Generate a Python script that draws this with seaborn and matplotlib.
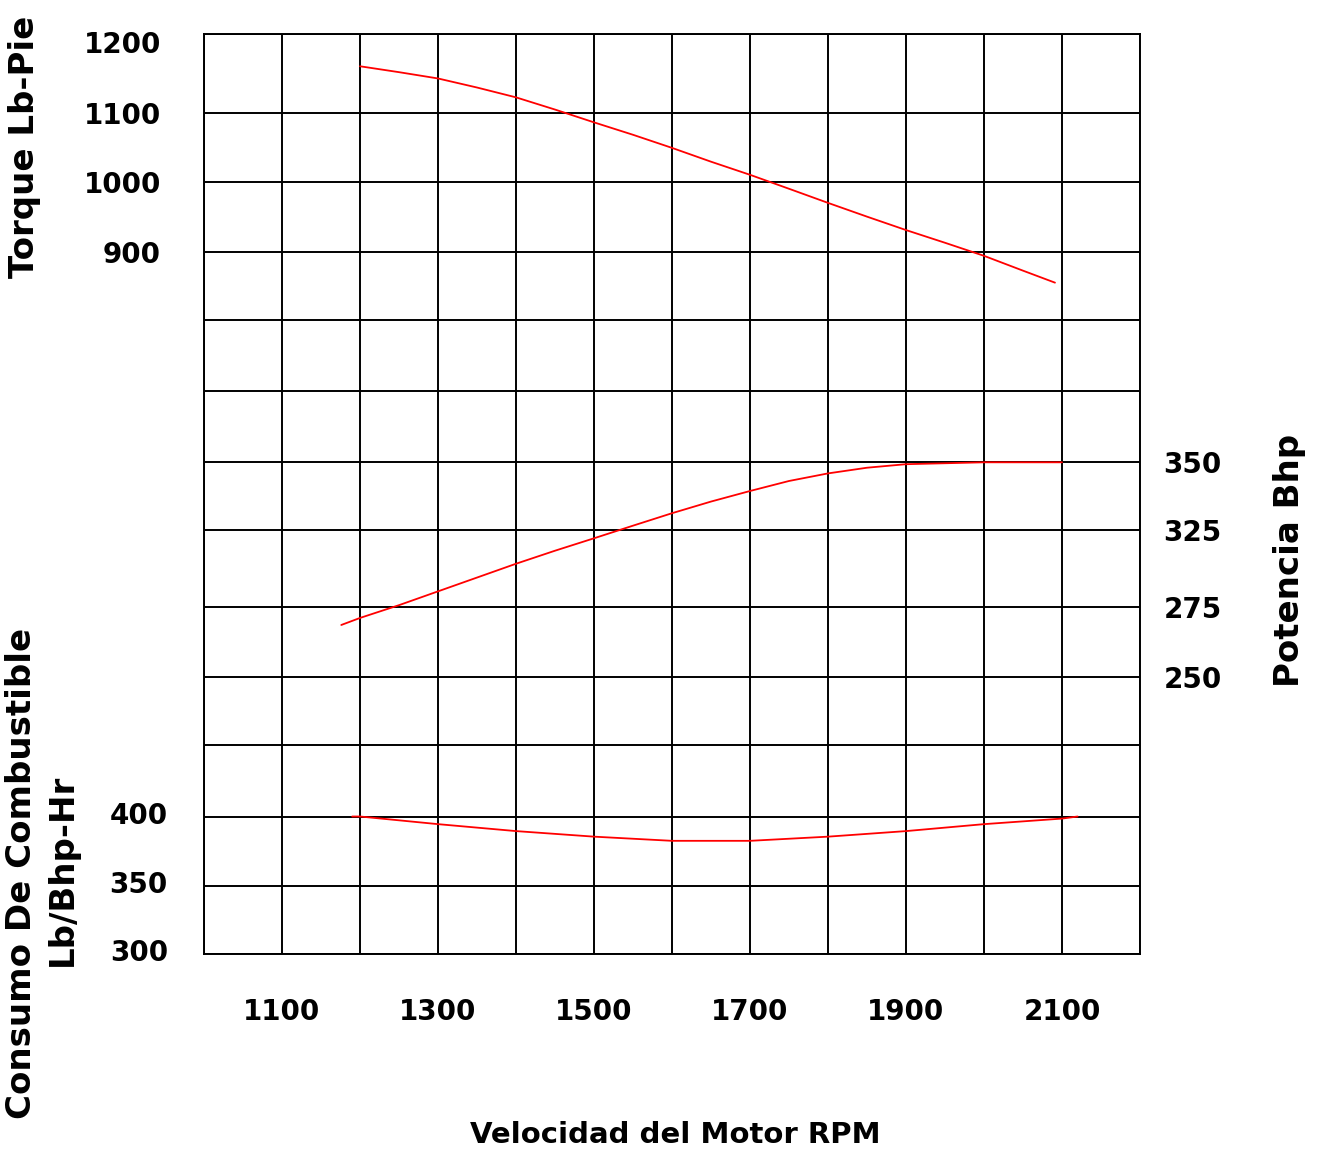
import numpy as np
import matplotlib
matplotlib.use("Agg")
import matplotlib.pyplot as plt
import matplotlib.transforms as mtransforms
import seaborn as sns

# Engine speed (rpm) and the three performance curves
torque_rpm = [1200, 1250, 1300, 1350, 1400, 1450, 1500, 1550, 1600, 1650,
              1700, 1750, 1800, 1850, 1900, 1950, 2000, 2050, 2091]
torque_lbft = [1159, 1151.5, 1143.5, 1132, 1119.5, 1104, 1086, 1068, 1049, 1029,
               1010, 990, 970, 950.5, 931.5, 913.5, 895, 874, 857]

power_rpm = [1176, 1200, 1250, 1300, 1350, 1400, 1450, 1500, 1550, 1600,
             1650, 1700, 1750, 1800, 1850, 1900, 2000, 2100]
power_bhp = [268.5, 271, 276, 285, 294, 303, 311.5, 319.6, 326.6, 331.2,
             335.5, 339.4, 343.1, 345.9, 348, 349.3, 350, 350]

fuel_rpm = [1190, 1200, 1300, 1400, 1500, 1600, 1700, 1800, 1900, 2000, 2100, 2120]
fuel_cons = [400, 400, 394.5, 389.5, 385.5, 382.5, 382.5, 385.5, 389.5, 394.5, 398.5, 400]

# Axis tick labels
rpm_ticks = [1100, 1300, 1500, 1700, 1900, 2100]
torque_ticks = [900, 1000, 1100, 1200]
power_ticks = [250, 275, 325, 350]
fuel_ticks = [300, 350, 400]

sns.set_style("white")
plt.rcParams["font.family"] = ["DejaVu Sans"]
plt.rcParams["font.weight"] = "bold"
plt.rcParams["text.color"] = "black"
plt.rcParams["xtick.color"] = "black"
plt.rcParams["ytick.color"] = "black"
plt.rcParams["axes.labelcolor"] = "black"

W, H = 1320, 1150
fig = plt.figure(figsize=(W / 100, H / 100), dpi=100)
fig.patch.set_facecolor("white")

# Layout of the chart frame and of its horizontal rules (pixels from the top)
left, right, top, bottom = 204, 1140, 34, 954
rule_px = [34, 112.7, 181.7, 252.3, 320, 391, 462.3, 530, 606.7, 677, 745, 816.5, 886, 954]
rule_y = [bottom - p for p in rule_px][::-1]            # height above frame bottom
torque_rule_idx = [3, 2, 1, 0]                          # rules carrying 900..1200
power_rule_idx = [9, 8, 7, 6]                           # rules carrying 250..350
fuel_rule_idx = [13, 12, 11]                            # rules carrying 300..400

ax = fig.add_axes([left / W, 1 - bottom / H, (right - left) / W, (bottom - top) / H])

TICK_FS = 20
TITLE_FS = 24.5

ax.set_xlim(1000, 2200)
ax.set_ylim(0, bottom - top)
grid_x = np.arange(1000, 2201, 100)
ax.set_xticks(grid_x)
ax.set_xticklabels([str(v) if v in rpm_ticks else "" for v in grid_x],
                   fontsize=TICK_FS, fontweight="bold")
ax.set_yticks(rule_y)
ax.set_yticklabels([])
ax.grid(True, color="black", lw=1.4)
ax.set_axisbelow(True)
for sp in ax.spines.values():
    sp.set_color("black")
    sp.set_linewidth(1.4)
ax.tick_params(axis="both", length=0)
ax.tick_params(axis="x", pad=32)

line_kw = dict(color="#ff0000", lw=1.3, legend=False)


def interp_ext(x, xp, fp):
    """Piecewise-linear map through (xp, fp), extended linearly past both ends."""
    x = np.asarray(x, dtype=float)
    y = np.interp(x, xp, fp)
    lo_slope = (fp[1] - fp[0]) / (xp[1] - xp[0])
    hi_slope = (fp[-1] - fp[-2]) / (xp[-1] - xp[-2])
    y = np.where(x < xp[0], fp[0] + (x - xp[0]) * lo_slope, y)
    y = np.where(x > xp[-1], fp[-1] + (x - xp[-1]) * hi_slope, y)
    return y


def value_axis(ticks, rule_idx):
    """Twin axis whose tick values sit on the given horizontal rules."""
    t = ax.twinx()
    for sp in t.spines.values():
        sp.set_visible(False)
    t.grid(False)
    vals = np.array(ticks, dtype=float)
    pos = np.array([bottom - rule_px[i] for i in rule_idx], dtype=float)
    t.set_yscale("function", functions=(lambda v: interp_ext(v, vals, pos),
                                        lambda p: interp_ext(p, pos, vals)))
    t.set_ylim(float(interp_ext(0.0, pos, vals)), float(interp_ext(bottom - top, pos, vals)))
    t.set_yticks(ticks)
    t.set_yticklabels([str(v) for v in ticks], fontsize=TICK_FS, fontweight="bold")
    t.tick_params(axis="both", length=0)
    return t


def shift_labels(labels, dy_px):
    off = mtransforms.ScaledTranslation(0, dy_px / 100, fig.dpi_scale_trans)
    for lbl in labels:
        lbl.set_transform(lbl.get_transform() + off)


# Torque on the left, upper block
ax_t = value_axis(torque_ticks, torque_rule_idx)
sns.lineplot(x=torque_rpm, y=torque_lbft, ax=ax_t, **line_kw)
ax_t.yaxis.tick_left()
ax_t.tick_params(axis="y", pad=31, length=0)
ax_t.set_ylabel("")
shift_labels([ax_t.get_yticklabels()[-1]], -8)

# Fuel consumption on the left, lower block
ax_f = value_axis(fuel_ticks, fuel_rule_idx)
sns.lineplot(x=fuel_rpm, y=fuel_cons, ax=ax_f, **line_kw)
ax_f.yaxis.tick_left()
ax_f.tick_params(axis="y", pad=26, length=0)
ax_f.set_ylabel("")
shift_labels(ax_f.get_yticklabels(), 4)

# Power on the right
ax_p = value_axis(power_ticks, power_rule_idx)
sns.lineplot(x=power_rpm, y=power_bhp, ax=ax_p, **line_kw)
ax_p.yaxis.tick_right()
ax_p.tick_params(axis="y", pad=17, length=0)
ax_p.set_ylabel("")

ax.set_xlim(1000, 2200)

# Axis titles
fig.text(25 / W, 1 - 147 / H, "Torque Lb-Pie", rotation=90, ha="center", va="center",
         fontsize=TITLE_FS, fontweight="bold")
fig.text(22 / W, 1 - 873 / H, "Consumo De Combustible", rotation=90, ha="center",
         va="center", fontsize=TITLE_FS, fontweight="bold")
fig.text(62 / W, 1 - 870 / H, "Lb/Bhp-Hr", rotation=90, ha="center", va="center",
         fontsize=TITLE_FS, fontweight="bold")
fig.text(1290 / W, 1 - 560 / H, "Potencia Bhp", rotation=90, ha="center", va="center",
         fontsize=TITLE_FS, fontweight="bold")
fig.text(675 / W, 1 - 1135 / H, "Velocidad del Motor RPM", ha="center", va="center",
         fontsize=21, fontweight="bold")

fig.savefig("out.png", dpi=100, facecolor="white")
